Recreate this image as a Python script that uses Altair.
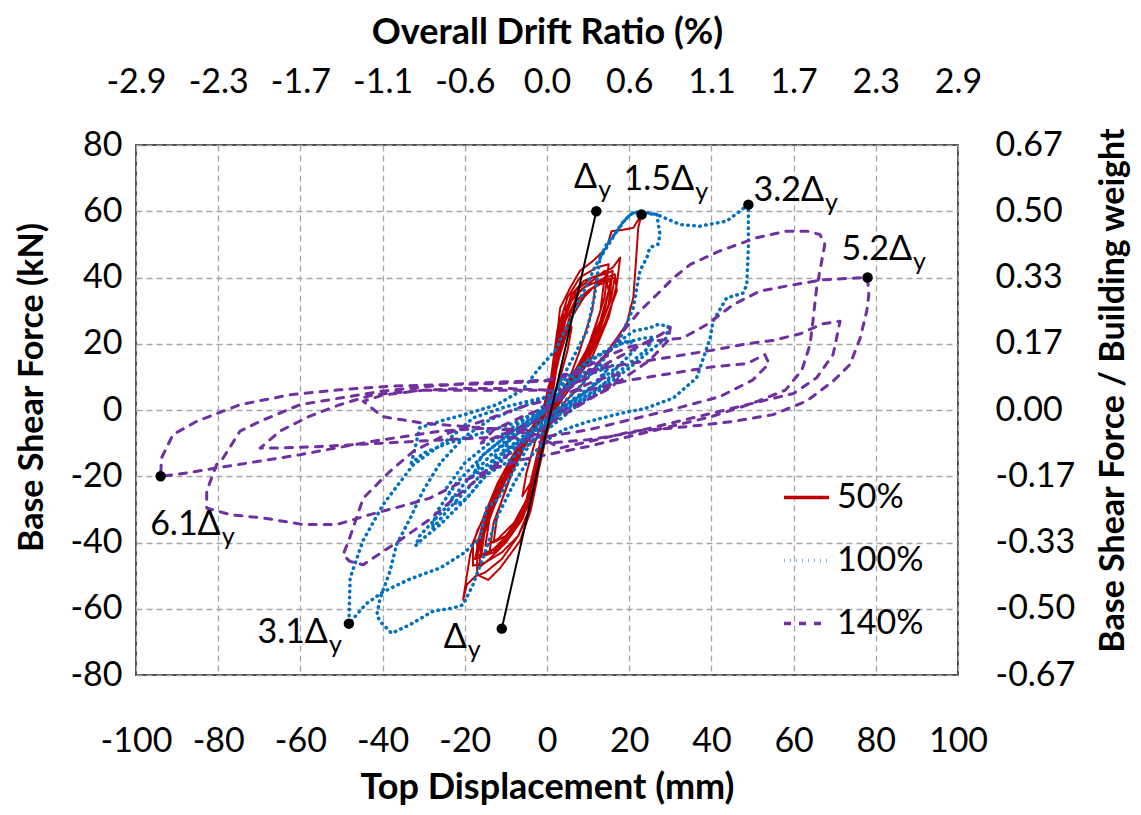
import json
import altair as alt
import pandas as pd

FONT = "Lato"

# ---------------- axis ticks and labels ----------------
x_ticks = [-100, -80, -60, -40, -20, 0, 20, 40, 60, 80, 100]
drift_labels = ["-2.9", "-2.3", "-1.7", "-1.1", "-0.6", "0.0", "0.6", "1.1", "1.7", "2.3", "2.9"]
y_ticks = [-80, -60, -40, -20, 0, 20, 40, 60, 80]
ratio_labels = ["-0.67", "-0.50", "-0.33", "-0.17", "0.00", "0.17", "0.33", "0.50", "0.67"]

series_names = ["50%", "100%", "140%"]
series_colors = ["#C00000", "#0070C0", "#7030A0"]
series_dashes = [[1, 0], [0.5, 5.5], [7, 8]]

# ---------------- hysteresis curves (top displacement mm, base shear kN) ----------------
red = [
    (0, 0), (1, 8), (2, 16), (4, 22), (6, 25), (5, 18), (3, 9), (1, 2), (-1, -6), (-2, -14), (-4, -22),
    (-6, -26), (-5, -19), (-3, -10), (-1, -3), (0, 0),
    (1, 9), (2.5, 22), (4, 30), (7, 35), (10, 38), (12, 40), (11, 30), (8, 18), (5, 8), (2, 1), (0, -7),
    (-2, -18), (-4, -28), (-8, -36), (-12, -41), (-14, -43), (-13, -34), (-10, -24), (-7, -14), (-4, -6), (-1, 0),
    (1, 10), (2.5, 24), (5, 34), (8, 40), (12, 43), (15, 44), (14, 34), (11, 22), (7, 11), (3, 3), (0, -4),
    (-2, -16), (-4, -29), (-7, -38), (-11, -45), (-15, -49), (-17, -50), (-17, -40), (-14, -30), (-11, -20),
    (-7, -11), (-3, -4), (0, 0),
    (2, 12), (4, 26), (7, 33), (10, 36), (13, 38), (15.5, 39), (14, 30), (11, 20), (7, 11), (3, 4), (0, -5),
    (-2, -15), (-4.5, -26), (-8, -34), (-12, -39), (-15, -41), (-14, -33), (-11, -23), (-7, -13), (-3, -5), (0, 0),
    (1, 9), (2.4, 22), (3.2, 30.8), (5.6, 36.8), (8, 42), (11.2, 45), (14.5, 49), (15.7, 54), (18.5, 54.4),
    (21, 55), (23, 59), (22.2, 55), (21.6, 44), (21, 34), (19.4, 26), (16, 20), (12, 13), (8, 7), (4, 2),
    (1, -4), (-1, -9), (-2.5, -21.5), (-4, -30.5), (-6.6, -39.6), (-11.4, -47.7), (-14.3, -51.3), (-17, -49.7),
    (-19.5, -52.7), (-20.4, -57.3), (-19.5, -50), (-18.7, -43.7), (-17, -36.6), (-13, -26.6), (-9.8, -18.5),
    (-6.6, -11.5), (-4, -7.5), (-1, -2),
    (1, 8), (3, 24), (6, 35), (9, 39), (13, 41), (16, 43), (17.8, 46), (17, 38), (15, 28), (11, 16), (7, 9),
    (3, 2), (0, -6), (-2, -18), (-4, -30), (-7, -38), (-11, -43), (-15, -46), (-18, -47), (-18, -40),
    (-15, -31), (-12, -22), (-8, -13), (-4, -6), (0, 0),
    (1.5, 11), (3.5, 25), (6, 33), (9, 37), (12.5, 39), (16.5, 41), (17, 36), (14, 26), (10, 15), (6, 8),
    (2, 2), (-1, -6), (-3, -19), (-5.5, -30), (-9, -38), (-13, -43), (-17.5, -45), (-16, -36), (-13, -27),
    (-9, -17), (-5, -8), (-1, -1),
    (2, 14), (4, 28), (7, 36), (11, 40), (14, 41), (16, 42), (15, 32), (12, 21), (8, 12), (4, 5), (0, -3),
    (-2, -14), (-5, -28), (-9, -37), (-13, -42), (-16, -44), (-15, -35), (-12, -24), (-8, -14), (-4, -6), (0, 0),
    (2, 13), (4.5, 27), (8, 36), (11, 39), (14, 42), (15, 36), (13, 27), (9, 16), (5, 7), (1, 0), (-1.5, -11),
    (-3.5, -24), (-6, -33), (-10, -40), (-14, -45), (-16.5, -47.5), (-16, -40), (-13.5, -31), (-10, -21),
    (-6, -12), (-2, -4), (0, 0),
    (3, 16), (6, 28), (9, 34), (12, 38), (14, 40), (13, 30), (10, 19), (6, 10), (2, 3), (-1, -6), (-3, -20),
    (-6, -31), (-10, -38), (-13, -40), (-12, -31), (-9, -20), (-5, -10), (-1, -2), (1, 2),
    (3, 18), (6, 30), (10, 36), (13.5, 39), (16.5, 40), (15.5, 33), (12, 22), (8, 13), (4, 6), (0, -2),
    (-2.5, -14), (-5, -27), (-8.5, -36), (-12.5, -42), (-17, -44), (-15, -34), (-11, -22), (-7, -12),
    (-3, -5), (0, 0),
]

blue = [
    (0, 0), (4, 6), (8, 10), (12, 13), (14.5, 12), (10, 6), (5, 1), (0, -4), (-5, -9), (-10, -14), (-14, -18),
    (-12, -12), (-7, -7), (-2, -2), (0, 0),
    (3, 5), (7, 9), (11, 11), (15, 13), (13, 9), (9, 5), (4, 1), (0, -2), (-4, -6), (-8, -10), (-11, -13),
    (-9, -9), (-5, -5), (-1, -1), (0, 0),
    (4, 8), (9, 14), (14.5, 17.8), (21, 23.8), (25, 24.8), (27, 25.8), (29.5, 25.3), (29, 21.7), (25, 17.8),
    (20, 12.7), (14, 7), (8, 2), (2, -4), (-4, -10), (-10, -16), (-14.7, -19.5), (-19.5, -26.6), (-22, -28.6),
    (-24.4, -23.5), (-20, -16), (-14, -10), (-8, -5), (-2, 0), (0, 2),
    (4, 9), (10, 15), (16, 19), (20, 21), (22, 19), (18, 14), (12, 8), (6, 3), (0, -3), (-6, -9), (-12, -15),
    (-18, -22), (-24, -30), (-28, -36), (-27, -31), (-22, -22), (-15, -13), (-8, -6), (-2, -1), (0, 1),
    (3, 8), (6, 15), (9.7, 23.8), (11.5, 34), (12.9, 46), (14.5, 50), (17, 54), (19.4, 58), (21, 59.5),
    (23, 59.5), (26.7, 59), (27.5, 53), (27, 50), (25, 49), (24.3, 46), (22.6, 42), (21, 30.8), (17.8, 21.7),
    (13, 14), (8, 7), (3, 1), (-2, -5), (-8, -12), (-14.7, -19.5), (-19.5, -26.6), (-26, -34.6), (-30.9, -39.6),
    (-32, -41), (-31, -38), (-25, -30), (-20, -22), (-14, -14), (-8, -7), (-2, -1), (0, 1),
    (-8, -4), (-16, -7), (-24, -10), (-30, -13), (-33, -16), (-32, -11), (-31, -5.4), (-25, -3), (-20.4, -1.5),
    (-12.2, 1.6), (-6, 6), (-2.5, 11.7), (2, 18), (6, 28), (9, 36), (12, 44), (15, 50), (18, 56), (20.2, 59),
    (22.6, 60), (26.7, 59), (32.4, 56), (37.2, 55.5), (43.7, 57), (49, 62), (49, 57), (49, 49), (48.6, 37.8),
    (47.7, 35.3), (43.7, 33.8), (40.4, 26.8), (39.7, 21.7), (36.4, 9.7), (30.7, 3.6), (24, 0.5), (18, -1),
    (10, -3.5), (4, -6), (0, -9), (-4, -14), (-8, -22), (-12, -32), (-15.6, -44.7), (-18, -52.7), (-20.4, -58.8),
    (-22.9, -59.8), (-27.7, -60.7), (-33.3, -64.8), (-37.8, -67.4), (-40.6, -63.8), (-41.4, -61.8),
    (-40.6, -56.8), (-38.2, -48.7), (-36.6, -40.6), (-33, -32), (-30.2, -24.5), (-26, -16), (-20, -8),
    (-14, -3), (-8, 0), (0, 4),
    (6, 10), (12, 16), (18, 20), (23.4, 21.7), (26, 22), (24, 18), (18, 12), (12, 6), (6, 1), (0, -4),
    (-4, -10), (-8, -18), (-12, -27), (-14.7, -29.6), (-16.3, -38.6), (-20, -43), (-26, -47.7), (-33.3, -51),
    (-40, -55), (-44, -58.5), (-48.2, -64.5), (-47.9, -50.7), (-44.8, -39.5), (-39.9, -28.6), (-32.6, -16.6),
    (-23.6, -8.5), (-18, -2.4), (-10, 1), (0, 4),
    (5, 8), (10, 12), (15, 14), (17, 12.7), (14, 8), (8, 3), (2, -2), (-5, -8), (-12, -14), (-18, -20),
    (-16, -14), (-10, -8), (-4, -3), (0, 0),
]

purple = [
    (0, 0), (5, 5), (12, 9), (18, 11), (16, 7), (8, 2), (0, -2), (-6, -5), (-12, -8), (-16, -10), (-13, -6),
    (-6, -2), (0, 1),
    (6, 7), (14.5, 14), (22, 19), (28, 23), (30, 25), (29.5, 21), (25, 15), (18, 9), (10, 3), (2, -3),
    (-6, -10), (-14, -18), (-22, -26), (-28.5, -33), (-36.6, -40), (-44.7, -46.7), (-48, -45.7), (-49.6, -43.7),
    (-48, -38.6), (-44.7, -26.6), (-38.2, -18.5), (-32.5, -12.5), (-24, -7), (-15, -3), (-6, 1), (0, 3),
    (8, 9), (14.5, 16.7), (18.5, 23.8), (22.6, 29.9), (26.7, 34.8), (30.7, 39.8), (34.8, 43.9), (42, 48),
    (51, 52), (58.3, 54), (63.2, 54), (66.4, 53), (67.6, 50), (66.4, 42), (65.6, 36.8), (64.7, 26.8),
    (64, 19.7), (62, 12), (58, 6), (50, 2), (40, -2), (30, -5), (20, -8), (10, -11), (2, -13), (-6, -15),
    (-14, -18), (-20.4, -21.5), (-28.5, -26.6), (-34.1, -28.6), (-43.1, -31.6), (-51.2, -34.6), (-59.3, -34.6),
    (-69, -32.6), (-77.1, -31.6), (-82.8, -29.6), (-82.8, -24.5), (-80.4, -16.5), (-78.8, -14.5),
    (-74.7, -6.4), (-69.8, -3.4), (-60.1, 1.6), (-50.4, 3.6), (-40.6, 5.6), (-30, 7), (-20, 8), (-10, 8.5),
    (0, 9),
    (8, 12), (14, 16), (20, 19), (27, 21), (33, 21.7), (38.9, 25.8), (45.3, 31.8), (51.8, 35.9), (59.9, 37.8),
    (67.2, 39.3), (74.5, 39.8), (78, 40), (78.3, 34.8), (77.8, 29.9), (76.2, 21.7), (73.7, 13.7), (69.6, 8.7),
    (63.2, 2.7), (55, -1.4), (45, -3.5), (38.9, -4.4), (30, -5.5), (21, -6.4), (12, -9), (3.2, -11.5),
    (-5, -6), (-15, -5.5), (-26, -6.4), (-42.3, -9.4), (-60.1, -13.5), (-80.4, -17.5), (-87.6, -19),
    (-94, -20), (-93.8, -14.5), (-91, -7.4), (-85.2, -3.4), (-74.7, 1.6), (-62.5, 4.6), (-50.4, 6.1),
    (-38.2, 7.2), (-26, 7.6), (-12, 8), (0, 8.8),
    (10, 12), (20, 14), (30, 16), (40, 18), (48.6, 20), (55, 21), (61.6, 23), (67, 26), (71.3, 26.8),
    (70.5, 22), (69.6, 16.7), (65.6, 9.7), (60, 5), (50, 2), (40, -1), (30, -4), (20, -7), (10, -9), (0, -10),
    (-10, -8), (-25, -9), (-40, -10), (-55, -11), (-65, -11.5), (-69.8, -11.5), (-65, -6.4), (-58, -2),
    (-50.4, 1.6), (-42.3, 4.6), (-30, 6), (-15, 6), (0, 6),
    (10, 6), (20, 9), (30, 11), (40, 13), (48.6, 14), (53, 16.7), (54, 14), (50, 9), (42, 4), (30, 0),
    (20, -3), (10, -6), (0, -8),
    (-10, -6), (-20, -5), (-30, -4), (-40, -2), (-44.7, 2.6), (-40, 4.5), (-30, 6), (-20, 6.5), (-10, 6.5),
    (0, 6),
]

# yield line and marked points
yield_x = [-11, 12]
yield_y = [-66, 60]
pt_x = [12, -11, 23, 49, 78, -94, -48.2]
pt_y = [60, -66, 59, 62, 40, -20, -64.5]

# annotation labels (position where the Δ ends and the subscript starts)
ann_main = ["Δ", "1.5Δ", "3.2Δ", "5.2Δ", "6.1Δ", "3.1Δ", "Δ"]
ann_x = [12.2, 35.8, 67.4, 88.8, -79.4, -53.3, -19.5]
ann_y = [70, 69.4, 66.1, 48.3, -34.7, -67.3, -68.8]


def to_frame(pairs, name):
    return pd.DataFrame({
        "x": [p[0] for p in pairs],
        "y": [p[1] for p in pairs],
        "series": name,
        "order": list(range(len(pairs))),
    })


curves = pd.concat([to_frame(red, "50%"), to_frame(blue, "100%"), to_frame(purple, "140%")],
                   ignore_index=True)
yield_df = pd.DataFrame({"x": yield_x, "y": yield_y})
pts_df = pd.DataFrame({"x": pt_x, "y": pt_y})
ann_df = pd.DataFrame({"x": ann_x, "y": ann_y, "t": ann_main})

xscale = alt.Scale(domain=[-100, 100], nice=False, zero=False)
yscale = alt.Scale(domain=[-80, 80], nice=False, zero=False)

GRID = dict(grid=True, gridDash=[6, 4], gridColor="#a6a6a6", gridWidth=1.3)
LAB = dict(labelFont=FONT, labelFontSize=34, labelColor="black", labelFlush=False,
           labelOverlap=False, ticks=False, tickSize=0, domain=False)
TIT_H = dict(titleFont=FONT, titleFontSize=36, titleFontWeight="bold", titleColor="black")
TIT_V = dict(titleFont=FONT, titleFontSize=34, titleFontWeight="bold", titleColor="black")

x_bottom = alt.Axis(orient="bottom", values=x_ticks, labelExpr="toString(datum.value)",
                    title="Top Displacement (mm)",
                    labelPadding=66, labelBaseline="middle", titleY=112, titleBaseline="middle",
                    **GRID, **LAB, **TIT_H)
y_left = alt.Axis(orient="left", values=y_ticks, labelExpr="toString(datum.value)",
                  title="Base Shear Force (kN)",
                  labelPadding=14, titleX=-104, titleY=242, titleAngle=270, titleAlign="center",
                  titleBaseline="middle", **GRID, **LAB, **TIT_V)
x_top = alt.Axis(orient="top", values=x_ticks, title="Overall Drift Ratio (%)",
                 labelExpr=json.dumps(drift_labels) + "[round((datum.value + 100) / 20)]",
                 labelPadding=63, labelBaseline="middle", titleY=-113, titleBaseline="middle",
                 grid=False, **LAB, **TIT_H)
y_right = alt.Axis(orient="right", values=y_ticks, title="Base Shear Force / Building weight",
                   labelExpr=json.dumps(ratio_labels) + "[round((datum.value + 80) / 20)]",
                   labelPadding=37, titleX=155, titleY=245, titleAngle=270, titleAlign="center",
                   titleBaseline="middle", grid=False, **LAB, **TIT_V)

legend = alt.Legend(orient="none", legendX=646, legendY=328, title=None, direction="vertical",
                    symbolType="stroke", symbolSize=2025, symbolStrokeWidth=3.5, labelFont=FONT,
                    labelFontSize=34, labelColor="black", labelOffset=6, rowPadding=21, padding=0)
color = alt.Color("series:N", scale=alt.Scale(domain=series_names, range=series_colors), legend=legend)
dash = alt.StrokeDash("series:N", scale=alt.Scale(domain=series_names, range=series_dashes), legend=legend)
widths = {"50%": 2, "100%": 3.5, "140%": 3}

base = alt.Chart(curves)
layers = []
for i, name in enumerate(series_names):
    layers.append(
        base.transform_filter(alt.datum.series == name)
        .mark_line(strokeWidth=widths[name], strokeCap="round", strokeJoin="round")
        .encode(
            x=alt.X("x:Q", scale=xscale, axis=x_bottom if i == 0 else None),
            y=alt.Y("y:Q", scale=yscale, axis=y_left if i == 0 else None),
            order=alt.Order("order:Q"),
            color=color,
            strokeDash=dash,
        )
    )

yline = alt.Chart(yield_df).mark_line(color="black", strokeWidth=2).encode(
    x=alt.X("x:Q", scale=xscale, axis=x_top),
    y=alt.Y("y:Q", scale=yscale, axis=y_right),
)
pts = alt.Chart(pts_df).mark_circle(size=110, color="black", opacity=1).encode(
    x=alt.X("x:Q", scale=xscale, axis=None),
    y=alt.Y("y:Q", scale=yscale, axis=None),
)
ann_main_layer = alt.Chart(ann_df).mark_text(
    align="right", baseline="middle", font=FONT, fontSize=34, color="black"
).encode(
    x=alt.X("x:Q", scale=xscale, axis=None),
    y=alt.Y("y:Q", scale=yscale, axis=None),
    text="t:N",
)
ann_sub_layer = alt.Chart(ann_df).mark_text(
    align="left", baseline="middle", dx=1, dy=12, font=FONT, fontSize=25, color="black"
).encode(
    x=alt.X("x:Q", scale=xscale, axis=None),
    y=alt.Y("y:Q", scale=yscale, axis=None),
    text=alt.value("y"),
)

chart = (
    alt.layer(*layers, yline, pts, ann_main_layer, ann_sub_layer)
    .resolve_axis(x="independent", y="independent")
    .properties(
        width=822,
        height=530,
        padding={"left": 128, "top": 137, "right": 175, "bottom": 130},
        autosize=alt.AutoSizeParams(type="none"),
        background="white",
    )
    .configure_view(stroke="#505050", strokeWidth=2)
)

chart.save("out.html", embed_options={"renderer": "svg", "actions": False})
